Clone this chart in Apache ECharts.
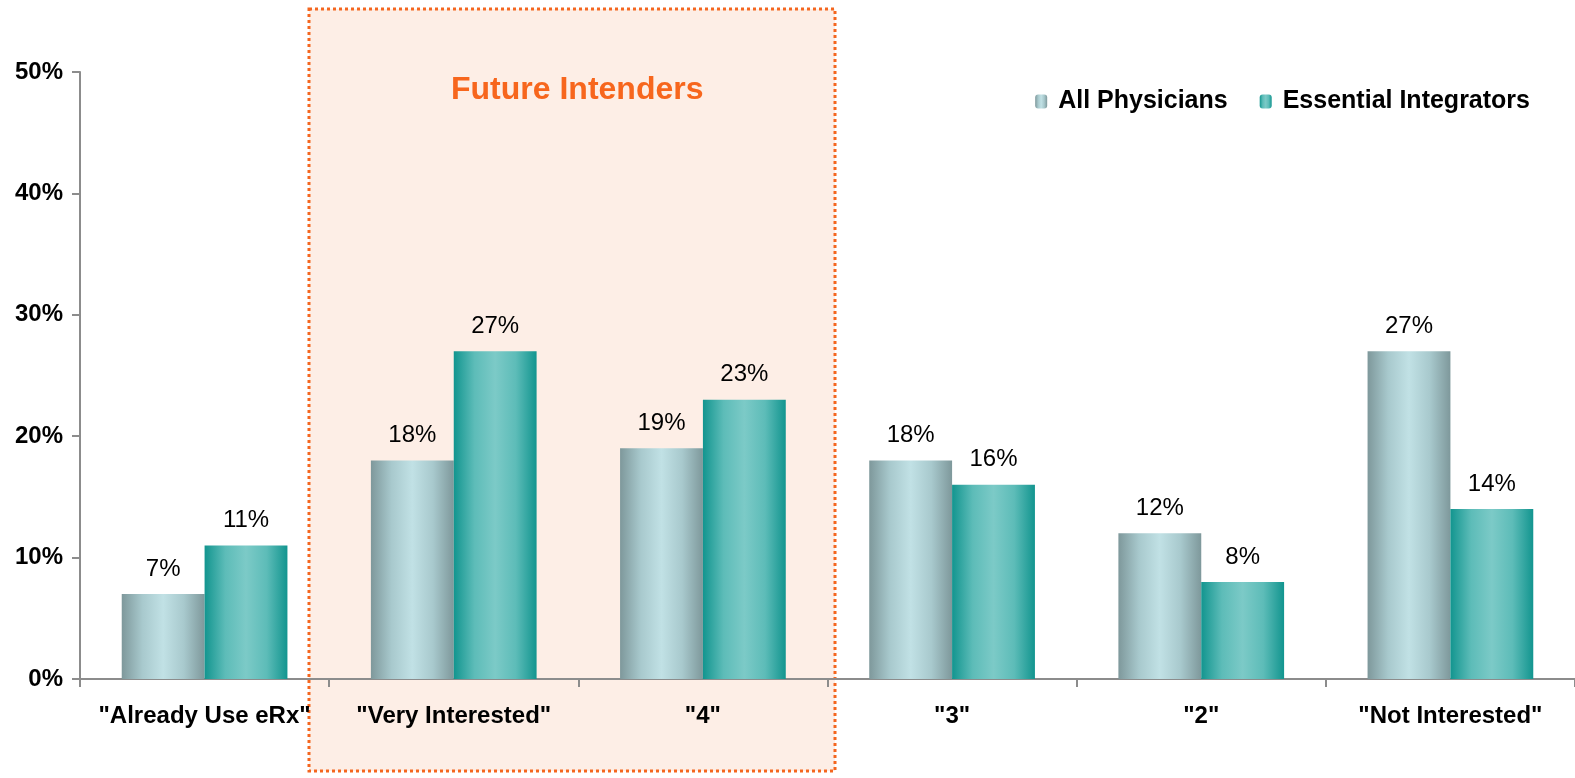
<!DOCTYPE html>
<html>
<head>
<meta charset="utf-8">
<script src="https://cdn.jsdelivr.net/npm/echarts@6/dist/echarts.min.js"></script>
<style>
  html, body { margin: 0; padding: 0; background: #fff; }
  #chart { width: 1575px; height: 778px; }
</style>
</head>
<body>
<div id="chart"></div>
<script>
// Interest in e-prescribing, by response
const categories = ['"Already Use eRx"', '"Very Interested"', '"4"', '"3"', '"2"', '"Not Interested"'];
const allPhysicians = [7, 18, 19, 18, 12, 27];
const essentialIntegrators = [11, 27, 23, 16, 8, 14];
const seriesNames = ['All Physicians', 'Essential Integrators'];
const yTicks = [0, 10, 20, 30, 40, 50];

const FONT = '"Liberation Sans", Arial, Helvetica, sans-serif';

function cylinder(dark, light) {
  return new echarts.graphic.LinearGradient(0, 0, 1, 0, [
    { offset: 0, color: dark },
    { offset: 0.25, color: light[0] },
    { offset: 0.5, color: light[1] },
    { offset: 0.75, color: light[0] },
    { offset: 1, color: dark }
  ]);
}
const greyFill = cylinder('#7e989b', ['#a8c9cd', '#c1e1e5']);
const tealFill = cylinder('#12958f', ['#5dbcb8', '#7ccac7']);

const chart = echarts.init(document.getElementById('chart'));

const labelStyle = {
  show: true,
  position: 'top',
  distance: 13,
  formatter: p => p.value + '%',
  fontFamily: FONT,
  fontSize: 24,
  color: '#000'
};

chart.setOption({
  animation: false,
  textStyle: { fontFamily: FONT },
  grid: { left: 80, right: 0, top: 72, bottom: 99, containLabel: false },
  graphic: [
    {
      type: 'rect',
      z: -1,
      shape: { x: 309, y: 9, width: 526, height: 762 },
      style: { fill: '#fdeee6', stroke: '#f4661f', lineWidth: 3, lineDash: [3, 3] }
    },
    {
      type: 'text',
      z: 10,
      left: 451,
      top: 74,
      style: {
        text: 'Future Intenders',
        font: 'bold 32px ' + FONT,
        fill: '#f7661d'
      }
    }
  ],
  legend: {
    data: seriesNames,
    right: 40,
    top: 84,
    itemWidth: 12,
    itemHeight: 14,
    itemGap: 32,
    textStyle: { fontFamily: FONT, fontSize: 25, fontWeight: 'bold', color: '#000', padding: [0, 0, 0, 6] }
  },
  xAxis: {
    type: 'category',
    data: categories,
    axisLine: { lineStyle: { color: '#8c8c8c', width: 2 } },
    axisTick: { show: true, length: 8, lineStyle: { color: '#8c8c8c', width: 2 } },
    axisLabel: { fontFamily: FONT, fontSize: 24, fontWeight: 'bold', color: '#000', margin: 25, interval: 0 }
  },
  yAxis: {
    type: 'value',
    min: yTicks[0],
    max: yTicks[yTicks.length - 1],
    interval: 10,
    axisLine: { show: true, lineStyle: { color: '#8c8c8c', width: 2 } },
    axisTick: { show: true, length: 8, lineStyle: { color: '#8c8c8c', width: 2 } },
    splitLine: { show: false },
    axisLabel: { formatter: '{value}%', fontFamily: FONT, fontSize: 24, fontWeight: 'bold', color: '#000', margin: 17 }
  },
  series: [
    {
      name: seriesNames[0],
      type: 'bar',
      data: allPhysicians,
      barGap: '0%',
      barCategoryGap: '33.5%',
      itemStyle: { color: greyFill },
      label: labelStyle
    },
    {
      name: seriesNames[1],
      type: 'bar',
      data: essentialIntegrators,
      itemStyle: { color: tealFill },
      label: labelStyle
    }
  ]
});
</script>
</body>
</html>
